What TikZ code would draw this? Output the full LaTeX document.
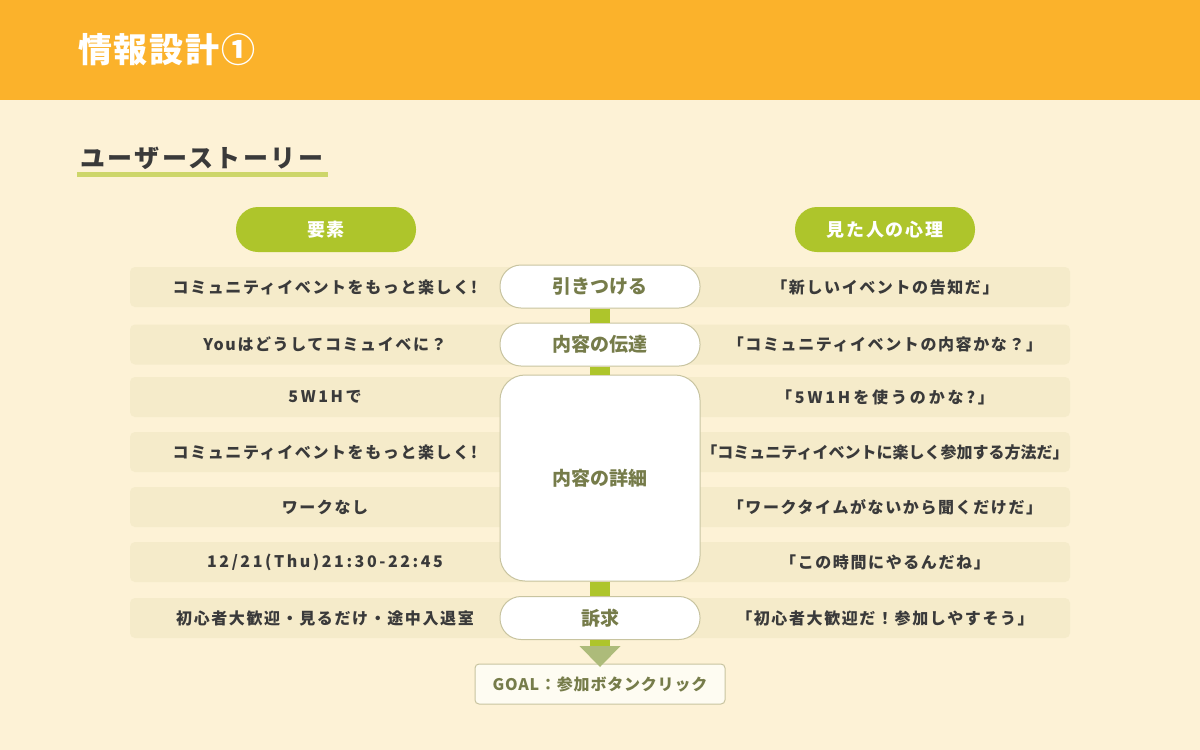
\documentclass[tikz,border=0pt]{standalone}
\usepackage{fontspec}
\setmainfont{Noto Sans CJK JP}[LetterSpace=10]
\usetikzlibrary{arrows.meta}

\definecolor{headorange}{RGB}{251,178,43}
\definecolor{cream}{RGB}{253,242,214}
\definecolor{barbeige}{RGB}{245,235,202}
\definecolor{leafgreen}{RGB}{174,197,43}
\definecolor{linegreen}{RGB}{205,214,106}
\definecolor{boxedge}{RGB}{200,196,160}
\definecolor{olivetext}{RGB}{118,124,74}
\definecolor{tipolive}{RGB}{173,187,122}
\definecolor{inkgray}{RGB}{58,58,58}
\definecolor{goalfill}{RGB}{254,252,242}

\newcommand{\spaced}[2]{{\addfontfeature{LetterSpace=#1}#2}}

\tikzset{
  pill/.style={fill=leafgreen, rounded corners=22pt, minimum width=180pt, minimum height=45pt, inner sep=0pt, text=white, font=\bfseries\fontsize{18}{22}\selectfont},
  bar/.style={fill=barbeige, rounded corners=5pt, minimum width=940pt, minimum height=40pt, inner sep=0pt},
  rowtext/.style={text=inkgray, inner sep=0pt, font=\bfseries\fontsize{16}{20}\selectfont},
  stage/.style={draw=boxedge, line width=1pt, fill=white, rounded corners=21pt, minimum width=200pt, minimum height=43pt, inner sep=0pt, text=olivetext, font=\bfseries\fontsize{19}{23}\selectfont\addfontfeature{LetterSpace=0}},
  link/.style={leafgreen, line width=20pt},
}

\begin{document}
\begin{tikzpicture}[x=1pt, y=-1pt]

    % 背景とヘッダー
    \fill[cream] (0,0) rectangle (1200,750);
    \fill[headorange] (0,0) rectangle (1200,100);
    \useasboundingbox (0,0) rectangle (1200,750);

    % タイトル
    \node[anchor=west, inner sep=0pt, text=white, font=\bfseries\fontsize{34}{40}\selectfont\addfontfeature{LetterSpace=5}] (title) at (78,50) {情報設計①};
    \node[anchor=west, inner sep=0pt, text=inkgray, font=\bfseries\fontsize{25}{29}\selectfont] (story) at (80,158) {ユーザーストーリー};
    \draw[linegreen, line width=5pt] (77,174.5) -- (328,174.5);

    % 見出し
    \node[pill] (elem) at (326,229.5) {要素};
    \node[pill] (mind) at (885,229.5) {見た人の心理};

    % 各行
    \foreach \n/\y/\l/\r in {
        1/287/{コミュニティイベントをもっと楽しく!}/{「新しいイベントの告知だ」},
        2/344.5/{Youはどうしてコミュイベに？}/{「コミュニティイベントの内容かな？」},
        3/397/{\spaced{16}{5W1Hで}}/{\spaced{18}{「5W1Hを使うのかな?」}},
        4/452/{コミュニティイベントをもっと楽しく!}/{\spaced{0}{「コミュニティイベントに楽しく参加する方法だ」}},
        5/507/{ワークなし}/{「ワークタイムがないから聞くだけだ」},
        6/562/{\spaced{16}{12/21(Thu)21:30-22:45}}/{「この時間にやるんだね」},
        7/618/{初心者大歓迎・見るだけ・途中入退室}/{「初心者大歓迎だ！参加しやすそう」}} {
        \node[bar] (bar\n) at (600,\y) {};
        \node[rowtext] (left\n) at (325,\y) {\l};
        \node[rowtext] (right\n) at (885,\y) {\r};
    }

    % 中央の流れ
    \node[stage] (hook) at (600,286.5) {引きつける};
    \node[stage] (convey) at (600,344.5) {内容の伝達};
    \node[stage, minimum height=206pt, rounded corners=25pt] (detail) at (600,478) {内容の詳細};
    \node[stage] (appeal) at (600,618) {訴求};

    % ゴール
    \node[draw=boxedge, line width=1pt, fill=goalfill, rounded corners=4pt, minimum width=250pt, minimum height=40pt, inner sep=0pt, text=olivetext, font=\bfseries\fontsize{16}{20}\selectfont\addfontfeature{LetterSpace=5}] (goal) at (600,684) {GOAL：参加ボタンクリック};
    \coordinate (goaltip) at (600,667);

    % つなぎ
    \draw[link] (hook) -- (convey);
    \draw[link] (convey) -- (detail);
    \draw[link] (detail) -- (appeal);
    \draw[link, -{Triangle[width=41pt, length=21pt, line width=0pt, color=tipolive]}] (appeal) -- (goaltip);

\end{tikzpicture}
\end{document}
